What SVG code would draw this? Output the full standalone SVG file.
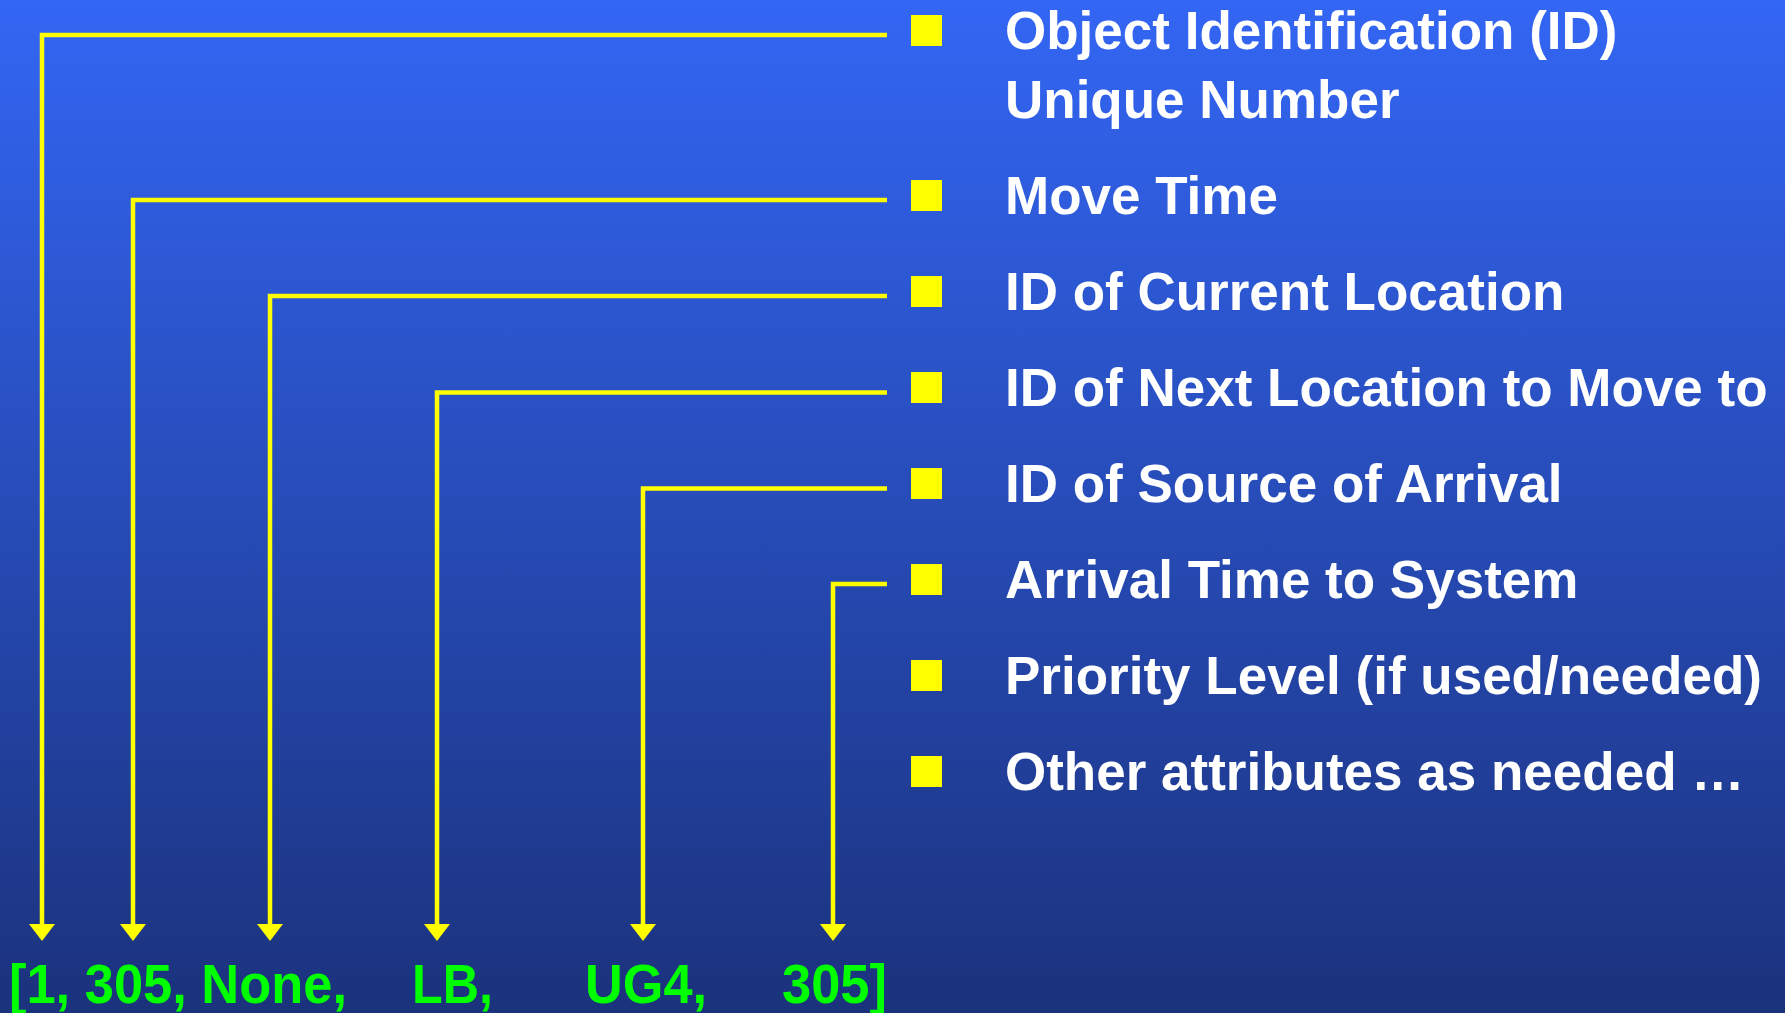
<svg xmlns="http://www.w3.org/2000/svg" width="1785" height="1013" viewBox="0 0 1785 1013">
<defs>
<linearGradient id="bg" x1="0" y1="0" x2="0" y2="1">
<stop offset="0" stop-color="#3366F4"/>
<stop offset="1" stop-color="#1B327C"/>
</linearGradient>
<style>
.lbl{font-family:"Liberation Sans",Arial,sans-serif;font-weight:bold;font-size:53px;fill:#FFFFFF}
.val{font-family:"Liberation Sans",Arial,sans-serif;font-weight:bold;font-size:56px;fill:#00FF00}
.bul{fill:#FFFF00}
.con{fill:none;stroke:#FFFF00;stroke-width:4.5}
.head{fill:#FFFF00}
</style>
</defs>
<rect x="0" y="0" width="1785" height="1013" fill="url(#bg)"/>

<g id="connectors">
<path class="con" d="M887,35 H42 V925"/>
<path class="con" d="M887,200 H133 V925"/>
<path class="con" d="M887,296 H270 V925"/>
<path class="con" d="M887,392.5 H437 V925"/>
<path class="con" d="M887,488.5 H643 V925"/>
<path class="con" d="M887,584 H833 V925"/>
<polygon class="head" points="29,924 55,924 42,941"/>
<polygon class="head" points="120,924 146,924 133,941"/>
<polygon class="head" points="257,924 283,924 270,941"/>
<polygon class="head" points="424,924 450,924 437,941"/>
<polygon class="head" points="630,924 656,924 643,941"/>
<polygon class="head" points="820,924 846,924 833,941"/>
</g>

<g id="item-object-id">
<rect class="bul" x="911" y="15" width="31" height="31"/>
<text class="lbl" x="1005" y="49">Object Identification (ID)</text>
<text class="lbl" x="1005" y="118">Unique Number</text>
</g>
<g id="item-move-time">
<rect class="bul" x="911" y="180" width="31" height="31"/>
<text class="lbl" x="1005" y="214">Move Time</text>
</g>
<g id="item-current-location">
<rect class="bul" x="911" y="276" width="31" height="31"/>
<text class="lbl" x="1005" y="310">ID of Current Location</text>
</g>
<g id="item-next-location">
<rect class="bul" x="911" y="372" width="31" height="31"/>
<text class="lbl" x="1005" y="406">ID of Next Location to Move to</text>
</g>
<g id="item-source">
<rect class="bul" x="911" y="468" width="31" height="31"/>
<text class="lbl" x="1005" y="502">ID of Source of Arrival</text>
</g>
<g id="item-arrival-time">
<rect class="bul" x="911" y="564" width="31" height="31"/>
<text class="lbl" x="1005" y="598">Arrival Time to System</text>
</g>
<g id="item-priority">
<rect class="bul" x="911" y="660" width="31" height="31"/>
<text class="lbl" x="1005" y="694">Priority Level (if used/needed)</text>
</g>
<g id="item-other">
<rect class="bul" x="911" y="756" width="31" height="31"/>
<text class="lbl" x="1005" y="790">Other attributes as needed …</text>
</g>

<g id="values">
<text class="val" x="9" y="1003" textLength="338" lengthAdjust="spacingAndGlyphs">[1, 305, None,</text>
<text class="val" x="412" y="1003" textLength="81" lengthAdjust="spacingAndGlyphs">LB,</text>
<text class="val" x="585" y="1003" textLength="122" lengthAdjust="spacingAndGlyphs">UG4,</text>
<text class="val" x="782" y="1003" textLength="105" lengthAdjust="spacingAndGlyphs">305]</text>
</g>
</svg>
